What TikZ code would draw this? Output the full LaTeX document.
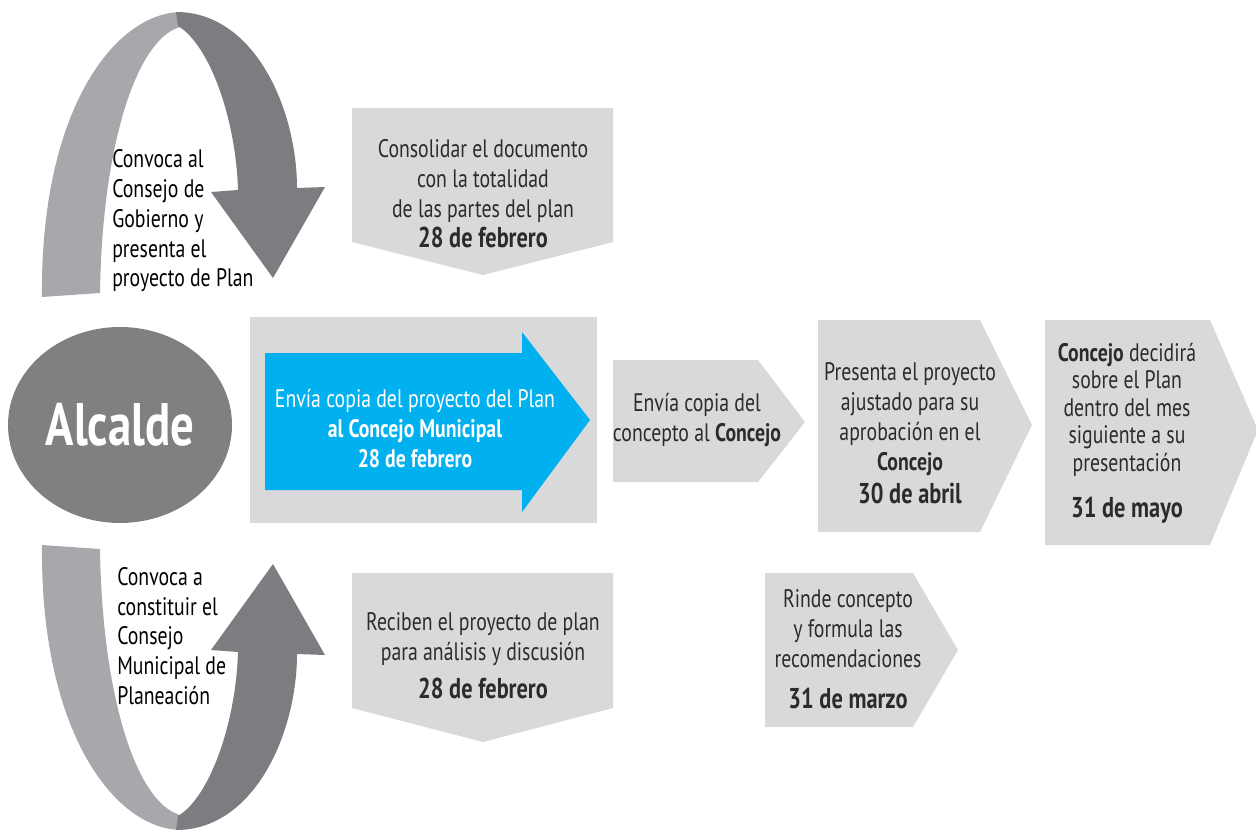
\documentclass[tikz,border=0pt]{standalone}
\usepackage{fontspec}
\setmainfont{PT Sans}[FakeStretch=0.78]
\usetikzlibrary{shapes.geometric}
\definecolor{lgray}{HTML}{D9D9DB}
\definecolor{band}{HTML}{A7A8AB}
\definecolor{dband}{HTML}{7C7D80}
\definecolor{ellc}{HTML}{808083}
\definecolor{skyb}{HTML}{00B0EF}
\definecolor{txt}{HTML}{2B2B2B}
\newcommand\curlpaths{%
  \fill[band] (42,297) .. controls (40,110) and (115,12) .. (182,12) -- (180,27) .. controls (135,40) and (102,150) .. (100,293) -- cycle;
  \fill[dband] (176,12) .. controls (255,12) and (297,110) .. (297,188) -- (325,187) -- (273,278) -- (211,192) -- (238,190) .. controls (236,120) and (210,45) .. (178,26) -- cycle;
}
\newcommand\datefont{\fontsize{21.5}{24}\selectfont\bfseries}
\tikzset{
  boxtext/.style={text=txt, align=center, inner sep=0pt, font=\fontsize{19}{22.5}\selectfont},
  sidetext/.style={text=black, align=left, inner sep=0pt, anchor=west, font=\fontsize{19}{22.3}\selectfont}
}
\begin{document}
\begin{tikzpicture}[x=0.75pt,y=-0.75pt]
\useasboundingbox (0,0) rectangle (1256,832);
% curved arrows
\curlpaths
\begin{scope}[yshift=-631.5pt,yscale=-1]
\curlpaths
\end{scope}
% Alcalde
\node[ellipse, fill=ellc, minimum width=168pt, minimum height=147pt, inner sep=0pt, text=white, font=\fontsize{45}{45}\selectfont\bfseries] (alc) at (120,425) {Alcalde};
% side texts
\node[sidetext] (top) at (112,221) {Convoca al\\Consejo de\\Gobierno y\\presenta el\\proyecto de Plan};
\node[sidetext] (bot) at (117,636) {Convoca a\\constituir el\\Consejo\\Municipal de\\Planeación};
% top down box
\fill[lgray] (352,108) -- (613,108) -- (613,242) -- (483,275) -- (352,242) -- cycle;
\node[boxtext] (cons) at (483,194) {Consolidar el documento\\con la totalidad\\de las partes del plan\\{\datefont 28 de febrero}};
% bottom down box
\fill[lgray] (352,573) -- (613,573) -- (613,708) -- (483,742) -- (352,708) -- cycle;
\node[boxtext] (rec) at (483,656) {Reciben el proyecto de plan\\para análisis y discusión\\[6pt]{\datefont 28 de febrero}};
% center
\fill[lgray] (250,317) rectangle (597,523);
\fill[skyb] (265,353) -- (522,353) -- (522,332) -- (590,420) -- (522,512) -- (522,490) -- (265,490) -- cycle;
\node[boxtext, text=white] (env) at (415,429) {Envía copia del proyecto del Plan\\\textbf{al Concejo Municipal}\\\textbf{28 de febrero}};
% Envia copia del concepto
\fill[lgray] (613,360) -- (758,360) -- (805,422) -- (758,482) -- (613,482) -- cycle;
\node[boxtext] (envc) at (697,420) {Envía copia del\\concepto al \textbf{Concejo}};
% Presenta
\fill[lgray] (818,320) -- (980,320) -- (1032,425) -- (980,532) -- (818,532) -- cycle;
\node[boxtext] (pres) at (910,433) {Presenta el proyecto\\ajustado para su\\aprobación en el\\\textbf{Concejo}\\[2pt]{\datefont 30 de abril}};
% Concejo decidira
\fill[lgray] (1045,320) -- (1210,320) -- (1258,430) -- (1210,545) -- (1045,545) -- cycle;
\node[boxtext, font=\fontsize{19}{20.6}\selectfont] (dec) at (1127,433) {\textbf{Concejo} decidirá\\sobre el Plan\\dentro del mes\\siguiente a su\\presentación\\[14pt]{\datefont 31 de mayo}};
% Rinde
\fill[lgray] (765,573) -- (913,573) -- (958,650) -- (913,727) -- (765,727) -- cycle;
\node[boxtext] (rin) at (848,649) {Rinde concepto\\y formula las\\recomendaciones\\[8pt]{\datefont 31 de marzo}};
\end{tikzpicture}
\end{document}
